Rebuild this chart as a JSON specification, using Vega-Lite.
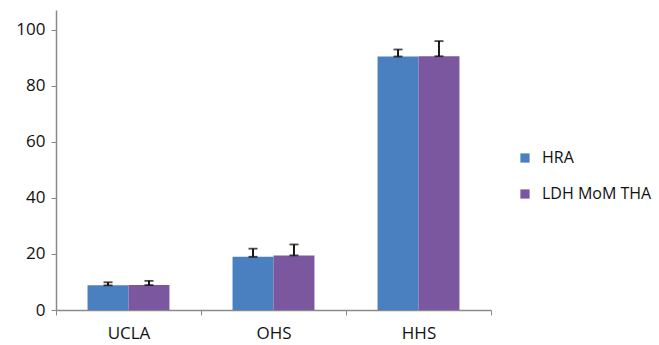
{
  "$schema": "https://vega.github.io/schema/vega-lite/v6.json",
  "width": 435,
  "height": 300,
  "autosize": {"type": "none"},
  "padding": {"left": 56, "top": 10, "right": 168, "bottom": 35},
  "background": "white",
  "config": {
    "view": {"stroke": null},
    "font": "Open Sans",
    "axis": {"labelFont": "Open Sans", "labelColor": "#111", "domainColor": "#8a8a8a", "tickColor": "#8a8a8a", "grid": false, "title": null}
  },
  "data": {
    "values": [
      {"school": "UCLA", "group": "HRA", "value": 8.8, "upper": 9.9},
      {"school": "UCLA", "group": "LDH MoM THA", "value": 8.9, "upper": 10.4},
      {"school": "OHS", "group": "HRA", "value": 19.0, "upper": 21.9},
      {"school": "OHS", "group": "LDH MoM THA", "value": 19.5, "upper": 23.4},
      {"school": "HHS", "group": "HRA", "value": 90.5, "upper": 93.0},
      {"school": "HHS", "group": "LDH MoM THA", "value": 90.6, "upper": 96.0}
    ]
  },
  "encoding": {
    "x": {
      "field": "school", "type": "nominal", "sort": ["UCLA", "OHS", "HHS"],
      "scale": {"paddingInner": 0, "paddingOuter": 0},
      "axis": {"labelAngle": 0, "labelFontSize": 17, "labelPadding": 10, "tickBand": "extent", "tickSize": 5, "domainWidth": 1.5}
    },
    "xOffset": {
      "field": "group", "type": "nominal", "sort": ["HRA", "LDH MoM THA"],
      "scale": {"paddingInner": 0, "paddingOuter": 0.77}
    }
  },
  "layer": [
    {
      "mark": {"type": "bar"},
      "encoding": {
        "y": {
          "field": "value", "type": "quantitative",
          "scale": {"domain": [0, 107.1], "nice": false},
          "axis": {"values": [0, 20, 40, 60, 80, 100], "labelFontSize": 17, "tickSize": 5, "labelPadding": 6, "domainWidth": 1.5}
        },
        "color": {
          "field": "group", "type": "nominal",
          "scale": {"domain": ["HRA", "LDH MoM THA"], "range": ["#4a7fc0", "#7a579f"]},
          "legend": {
            "title": null, "orient": "none", "legendX": 461, "legendY": 140,
            "symbolType": "square", "symbolSize": 85, "symbolStrokeWidth": 0,
            "labelFontSize": 16, "labelColor": "#111", "rowPadding": 20, "labelOffset": 9
          }
        }
      }
    },
    {
      "mark": {"type": "rule", "color": "black", "strokeWidth": 1.8},
      "encoding": {
        "y": {"field": "value", "type": "quantitative"},
        "y2": {"field": "upper"}
      }
    },
    {
      "mark": {"type": "tick", "color": "black", "size": 9, "thickness": 1.8},
      "encoding": {"y": {"field": "upper", "type": "quantitative"}}
    },
    {
      "mark": {"type": "tick", "color": "black", "size": 9, "thickness": 1.8},
      "encoding": {"y": {"field": "value", "type": "quantitative"}}
    }
  ]
}
